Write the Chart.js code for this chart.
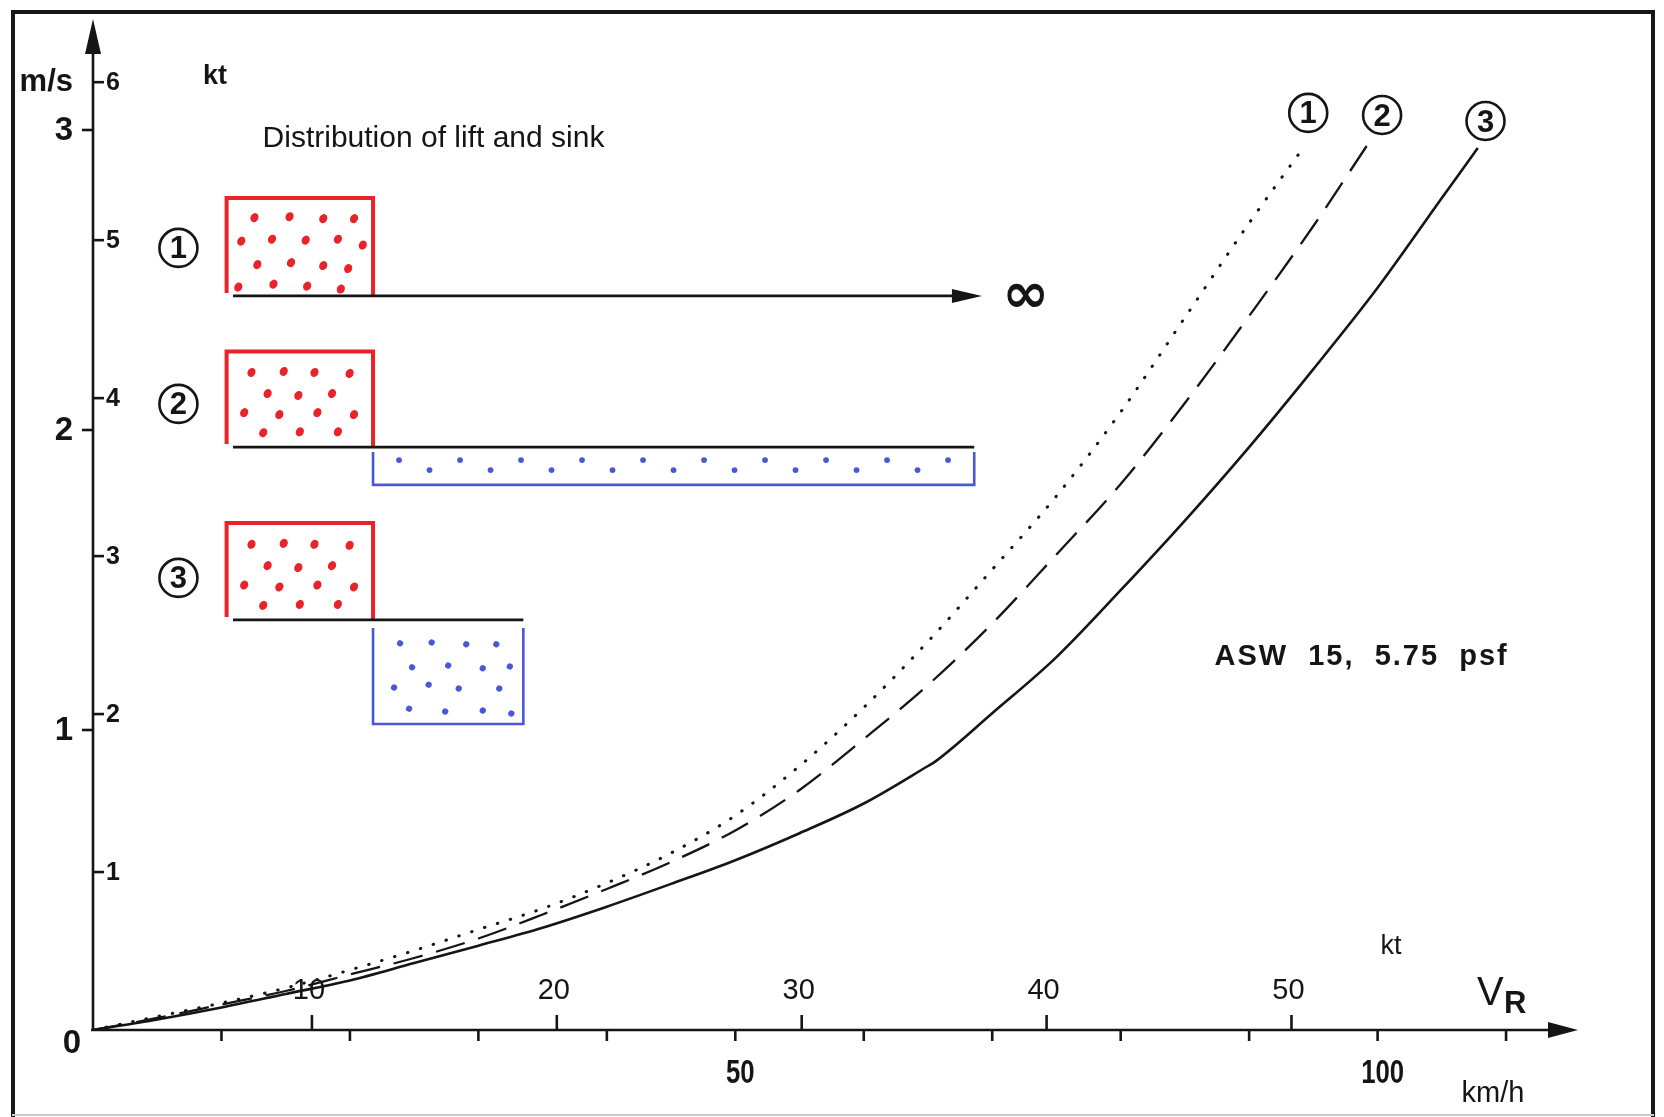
<!DOCTYPE html>
<html>
<head>
<meta charset="utf-8">
<script src="https://cdn.jsdelivr.net/npm/chart.js@4.4.1/dist/chart.umd.min.js"></script>
<style>
  html, body { margin: 0; padding: 0; background: #ffffff; overflow: hidden; }
  #wrap { width: 1664px; height: 1117px; }
</style>
</head>
<body>
<div id="wrap"><canvas id="chart" width="1664" height="1117"></canvas></div>
<script>
// Achieved cross-country speed V_R (km/h) against mean climb (m/s), ASW 15 at 5.75 psf,
// for three distributions of lift and sink.

// Curve 1: lift alone, no sink between thermals (dotted)
const speed1 = [0, 5, 10, 15, 20, 25, 30, 35, 40, 45, 50, 55, 60, 65, 70, 75, 80, 85, 90, 94.2];
const climb1 = [0, 0.045, 0.09, 0.14, 0.2, 0.265, 0.335, 0.405, 0.49, 0.59, 0.715, 0.88, 1.075, 1.295, 1.535, 1.78, 2.06, 2.375, 2.69, 2.94];

// Curve 2: lift followed by a long band of weak sink (dashed)
const speed2 = [0, 5, 10, 15, 20, 25, 30, 35, 40, 45, 50, 55, 60, 65, 70, 75, 80, 85, 90, 95, 99.2];
const climb2 = [0, 0.04, 0.085, 0.13, 0.185, 0.24, 0.305, 0.385, 0.47, 0.56, 0.665, 0.8, 0.97, 1.15, 1.355, 1.585, 1.82, 2.09, 2.38, 2.68, 2.95];

// Curve 3: lift followed by an equal band of strong sink (solid)
const speed3 = [0, 5, 10, 15, 20, 25, 30, 35, 40, 45, 50, 55, 60, 65, 65.5, 70, 75, 80, 85, 90, 95, 100, 105, 107.8];
const climb3 = [0, 0.035, 0.075, 0.12, 0.165, 0.223, 0.281, 0.341, 0.411, 0.487, 0.566, 0.656, 0.755, 0.88, 0.893, 1.056, 1.243, 1.466, 1.698, 1.943, 2.203, 2.474, 2.773, 2.94];

const curveNames = ['1', '2', '3'];

// Tick labels
const climbTicksMs = [1, 2, 3];
const climbTicksKt = [1, 2, 3, 4, 5, 6];
const speedTicksKt = [10, 20, 30, 40, 50];
const speedTicksKmh = [10, 20, 30, 40, 50, 60, 70, 80, 90, 100, 110];
const speedLabelsKmh = [50, 100];

// Axis ranges (the knot scales are printed slightly offset from the metric ones)
const KMH_MAX = 115.6, MS_MAX = 3.37;
const KT_X_MIN = 1.06, KT_X_MAX = 61.7;
const KT_Y_MAX = 6.4;

const FONT = "'Liberation Sans', Arial, Helvetica, sans-serif";
const INK = '#151515';
const RED = '#e8232a';
const BLUE = '#4a57d6';

// Inset sketch of the lift/sink distributions, laid out in axis units (km/h, m/s)
const sketch = {
  boxLeft: 10.4, baseStart: 10.9, split: 21.8, stripEnd: 68.6, box3End: 33.5,
  arrowEnd: 69.2, infinityX: 72.6, numberX: 6.65,
  rows: [
    { top: 2.773, base: 2.447, numberY: 2.607 },
    { top: 2.262, base: 1.943, sinkBottom: 1.817, numberY: 2.087 },
    { top: 1.69, base: 1.367, sinkTop: 1.34, sinkBottom: 1.02, numberY: 1.507 }
  ]
};
// Dot pattern inside a hatched box, as fractions of its width and height
const dotRowsA = [
  [[0.19, 0.2], [0.43, 0.19], [0.66, 0.21], [0.87, 0.21]],
  [[0.10, 0.44], [0.31, 0.42], [0.54, 0.43], [0.76, 0.42], [0.93, 0.48]],
  [[0.21, 0.68], [0.44, 0.66], [0.66, 0.69], [0.83, 0.72]],
  [[0.08, 0.91], [0.32, 0.88], [0.55, 0.90], [0.78, 0.93]]
];
const dotRowsB = [
  [[0.17, 0.22], [0.39, 0.21], [0.60, 0.22], [0.84, 0.23]],
  [[0.28, 0.44], [0.49, 0.46], [0.72, 0.44]],
  [[0.12, 0.64], [0.36, 0.66], [0.62, 0.64], [0.87, 0.66]],
  [[0.25, 0.85], [0.50, 0.84], [0.76, 0.84]]
];
const dotRowsC = [
  [[0.18, 0.16], [0.39, 0.15], [0.62, 0.17], [0.82, 0.17]],
  [[0.26, 0.41], [0.50, 0.39], [0.73, 0.42], [0.91, 0.40]],
  [[0.14, 0.62], [0.37, 0.59], [0.57, 0.63], [0.84, 0.63]],
  [[0.24, 0.84], [0.48, 0.87], [0.73, 0.86], [0.92, 0.89]]
];

// Top curve labels, axis units
const curveLabelPos = [
  { x: 94.6, y: 3.057 },
  { x: 100.35, y: 3.05 },
  { x: 108.4, y: 3.03 }
];

const textNotes = {
  title: { text: 'Distribution of lift and sink', x: 13.2, y: 2.943 },
  glider: { text: 'ASW  15,  5.75  psf', x: 87.3, y: 1.217 }
};

function points(xs, ys) { return xs.map((x, i) => ({ x: x, y: ys[i] })); }

function circledNumber(ctx, cx, cy, digit) {
  ctx.save();
  ctx.strokeStyle = INK;
  ctx.lineWidth = 2.6;
  ctx.beginPath();
  ctx.arc(cx, cy, 19, 0, Math.PI * 2);
  ctx.stroke();
  ctx.fillStyle = INK;
  ctx.font = 'bold 31px ' + FONT;
  ctx.textAlign = 'center';
  ctx.textBaseline = 'middle';
  ctx.fillText(digit, cx, cy + 2);
  ctx.restore();
}

function line(ctx, x1, y1, x2, y2) {
  ctx.beginPath(); ctx.moveTo(x1, y1); ctx.lineTo(x2, y2); ctx.stroke();
}

function dots(ctx, pattern, x0, y0, w, h, color, rx, ry) {
  ctx.fillStyle = color;
  pattern.forEach(row => row.forEach(p => {
    ctx.beginPath();
    ctx.ellipse(x0 + p[0] * w, y0 + p[1] * h, rx, ry, 0.5, 0, Math.PI * 2);
    ctx.fill();
  }));
}

const artwork = {
  id: 'artwork',
  beforeDraw(chart) {
    const ctx = chart.ctx;
    ctx.save();
    ctx.fillStyle = '#ffffff';
    ctx.fillRect(0, 0, chart.width, chart.height);
    // frame
    ctx.strokeStyle = '#1c1612';
    ctx.lineWidth = 4;
    line(ctx, 12, 12, 1654, 12);
    line(ctx, 13, 10, 13, 1117);
    line(ctx, 1653, 10, 1653, 1117);
    ctx.strokeStyle = '#c9c9c9';
    ctx.lineWidth = 2;
    line(ctx, 12, 1115, 1654, 1115);
    ctx.restore();
  },
  beforeDatasetsDraw(chart) {
    const ctx = chart.ctx;
    const sx = chart.scales.x, sy = chart.scales.y;
    const kx = chart.scales.xKt, ky = chart.scales.yKt;
    const area = chart.chartArea;
    const X0 = sx.getPixelForValue(0), Y0 = sy.getPixelForValue(0);
    ctx.save();
    ctx.strokeStyle = INK;
    ctx.fillStyle = INK;
    ctx.lineWidth = 2.6;
    ctx.lineCap = 'butt';

    // vertical axis with arrow
    line(ctx, X0, Y0, X0, area.top + 20);
    ctx.beginPath();
    ctx.moveTo(X0, area.top);
    ctx.lineTo(X0 - 8, area.top + 35);
    ctx.lineTo(X0 + 8, area.top + 35);
    ctx.closePath();
    ctx.fill();

    // horizontal axis with arrow
    line(ctx, X0 - 2, Y0, area.right - 20, Y0);
    ctx.beginPath();
    ctx.moveTo(area.right, Y0);
    ctx.lineTo(area.right - 30, Y0 - 8);
    ctx.lineTo(area.right - 30, Y0 + 8);
    ctx.closePath();
    ctx.fill();

    // m/s ticks, left of the axis
    ctx.font = 'bold 33px ' + FONT;
    ctx.textAlign = 'right';
    ctx.textBaseline = 'middle';
    climbTicksMs.forEach(v => {
      const py = sy.getPixelForValue(v);
      line(ctx, X0 - 11, py, X0, py);
      ctx.fillText(String(v), X0 - 20, py + 1);
    });
    ctx.textAlign = 'center';
    ctx.fillText('0', X0 - 21, Y0 + 14);

    // kt ticks, right of the axis
    ctx.font = 'bold 25px ' + FONT;
    ctx.textAlign = 'left';
    climbTicksKt.forEach(v => {
      const py = ky.getPixelForValue(v);
      line(ctx, X0, py, X0 + 11, py);
      ctx.fillText(String(v), X0 + 13, py + 1);
    });
    const ySix = ky.getPixelForValue(6);
    ctx.font = 'bold 31px ' + FONT;
    ctx.textAlign = 'right';
    ctx.fillText('m/s', X0 - 20, ySix);
    ctx.font = 'bold 27px ' + FONT;
    ctx.textAlign = 'left';
    ctx.fillText('kt', X0 + 110, ySix - 6);

    // knot ticks above the speed axis
    ctx.font = '29px ' + FONT;
    ctx.textAlign = 'center';
    ctx.textBaseline = 'middle';
    speedTicksKt.forEach(v => {
      const px = kx.getPixelForValue(v);
      line(ctx, px, Y0, px, Y0 - 15);
      ctx.fillText(String(v), px - 3, Y0 - 39);
    });
    // km/h ticks below
    speedTicksKmh.forEach(v => {
      const px = sx.getPixelForValue(v);
      line(ctx, px, Y0, px, Y0 + 11);
    });
    ctx.font = 'bold 33px ' + FONT;
    speedLabelsKmh.forEach(v => {
      const px = sx.getPixelForValue(v);
      ctx.save();
      ctx.translate(px + 5, Y0 + 44);
      ctx.scale(0.78, 1);
      ctx.fillText(String(v), 0, 0);
      ctx.restore();
    });

    // axis titles
    ctx.font = '27px ' + FONT;
    ctx.fillText('kt', area.right - 187, Y0 - 83);
    ctx.font = '29px ' + FONT;
    ctx.fillText('km/h', area.right - 85, Y0 + 64);
    ctx.textAlign = 'left';
    ctx.textBaseline = 'alphabetic';
    ctx.font = '40px ' + FONT;
    ctx.fillText('V', area.right - 101, Y0 - 25);
    ctx.font = 'bold 31px ' + FONT;
    ctx.fillText('R', area.right - 74, Y0 - 17);

    // title and glider note
    ctx.font = '30px ' + FONT;
    ctx.fillText(textNotes.title.text, sx.getPixelForValue(textNotes.title.x), sy.getPixelForValue(textNotes.title.y));
    ctx.font = 'bold 29px ' + FONT;
    ctx.letterSpacing = '2px';
    ctx.fillText(textNotes.glider.text, sx.getPixelForValue(textNotes.glider.x), sy.getPixelForValue(textNotes.glider.y));
    ctx.letterSpacing = '0px';

    // lift / sink sketch
    const L = sx.getPixelForValue(sketch.boxLeft);
    const B0 = sx.getPixelForValue(sketch.baseStart);
    const S = sx.getPixelForValue(sketch.split);
    const E2 = sx.getPixelForValue(sketch.stripEnd);
    const E3 = sx.getPixelForValue(sketch.box3End);
    const A = sx.getPixelForValue(sketch.arrowEnd);
    const liftPatterns = [dotRowsA, dotRowsB, dotRowsB];
    sketch.rows.forEach((r, i) => {
      const top = sy.getPixelForValue(r.top);
      const base = sy.getPixelForValue(r.base);
      // red lift box
      ctx.strokeStyle = RED;
      ctx.lineWidth = 4;
      ctx.lineJoin = 'miter';
      ctx.beginPath();
      ctx.moveTo(L, base - 3);
      ctx.lineTo(L, top);
      ctx.lineTo(S, top);
      ctx.lineTo(S, base);
      ctx.stroke();
      dots(ctx, liftPatterns[i], L, top, S - L, base - top, RED, 3.9, 4.7);
      // baseline
      ctx.strokeStyle = INK;
      ctx.lineWidth = 2.6;
      const end = i === 0 ? A - 20 : (i === 1 ? E2 : E3);
      line(ctx, B0, base, end, base);
      circledNumber(ctx, sx.getPixelForValue(sketch.numberX), sy.getPixelForValue(r.numberY), String(i + 1));
    });
    // row 1: lift then nothing, out to infinity
    const b1 = sy.getPixelForValue(sketch.rows[0].base);
    ctx.fillStyle = INK;
    ctx.beginPath();
    ctx.moveTo(A, b1);
    ctx.lineTo(A - 30, b1 - 7);
    ctx.lineTo(A - 30, b1 + 7);
    ctx.closePath();
    ctx.fill();
    ctx.font = 'bold 56px DejaVu Sans, sans-serif';
    ctx.textAlign = 'center';
    ctx.textBaseline = 'middle';
    ctx.fillText('\u221E', sx.getPixelForValue(sketch.infinityX), b1 + 2);

    // row 2: long weak sink band
    const r2 = sketch.rows[1];
    const b2 = sy.getPixelForValue(r2.base), s2 = sy.getPixelForValue(r2.sinkBottom);
    ctx.strokeStyle = BLUE;
    ctx.lineWidth = 2.6;
    ctx.beginPath();
    ctx.moveTo(S, b2 + 5);
    ctx.lineTo(S, s2);
    ctx.lineTo(E2, s2);
    ctx.lineTo(E2, b2 + 5);
    ctx.stroke();
    ctx.fillStyle = BLUE;
    for (let px = S + 26, k = 0; px < E2 - 12; px += 30.5, k++) {
      ctx.beginPath();
      ctx.arc(px, b2 + (k % 2 ? 23 : 13), 2.9, 0, Math.PI * 2);
      ctx.fill();
    }

    // row 3: short strong sink box
    const r3 = sketch.rows[2];
    const t3 = sy.getPixelForValue(r3.sinkTop), s3 = sy.getPixelForValue(r3.sinkBottom);
    ctx.beginPath();
    ctx.moveTo(S, t3);
    ctx.lineTo(S, s3);
    ctx.lineTo(E3, s3);
    ctx.lineTo(E3, t3);
    ctx.stroke();
    dots(ctx, dotRowsC, S, t3, E3 - S, s3 - t3, BLUE, 3.1, 3.1);
    ctx.restore();
  },
  afterDatasetsDraw(chart) {
    const ctx = chart.ctx;
    const sx = chart.scales.x, sy = chart.scales.y;
    curveLabelPos.forEach((p, i) => {
      circledNumber(ctx, sx.getPixelForValue(p.x), sy.getPixelForValue(p.y), curveNames[i]);
    });
  }
};

const common = {
  borderColor: INK,
  pointRadius: 0,
  pointHoverRadius: 0,
  fill: false,
  cubicInterpolationMode: 'monotone'
};

new Chart(document.getElementById('chart'), {
  type: 'line',
  data: {
    datasets: [
      Object.assign({ label: curveNames[0], data: points(speed1, climb1), borderWidth: 3, borderDash: [0.5, 13], borderCapStyle: 'round' }, common),
      Object.assign({ label: curveNames[1], data: points(speed2, climb2), borderWidth: 2.3, borderDash: [30, 14] }, common),
      Object.assign({ label: curveNames[2], data: points(speed3, climb3), borderWidth: 2.6 }, common)
    ]
  },
  options: {
    responsive: false,
    animation: false,
    devicePixelRatio: 1,
    layout: { padding: { left: 93, right: 86, top: 19, bottom: 87 } },
    plugins: { legend: { display: false }, tooltip: { enabled: false } },
    scales: {
      x: { type: 'linear', min: 0, max: KMH_MAX, display: false },
      xKt: { type: 'linear', axis: 'x', min: KT_X_MIN, max: KT_X_MAX, display: false },
      y: { type: 'linear', min: 0, max: MS_MAX, display: false },
      yKt: { type: 'linear', axis: 'y', min: 0, max: KT_Y_MAX, display: false }
    }
  },
  plugins: [artwork]
});
</script>
</body>
</html>
